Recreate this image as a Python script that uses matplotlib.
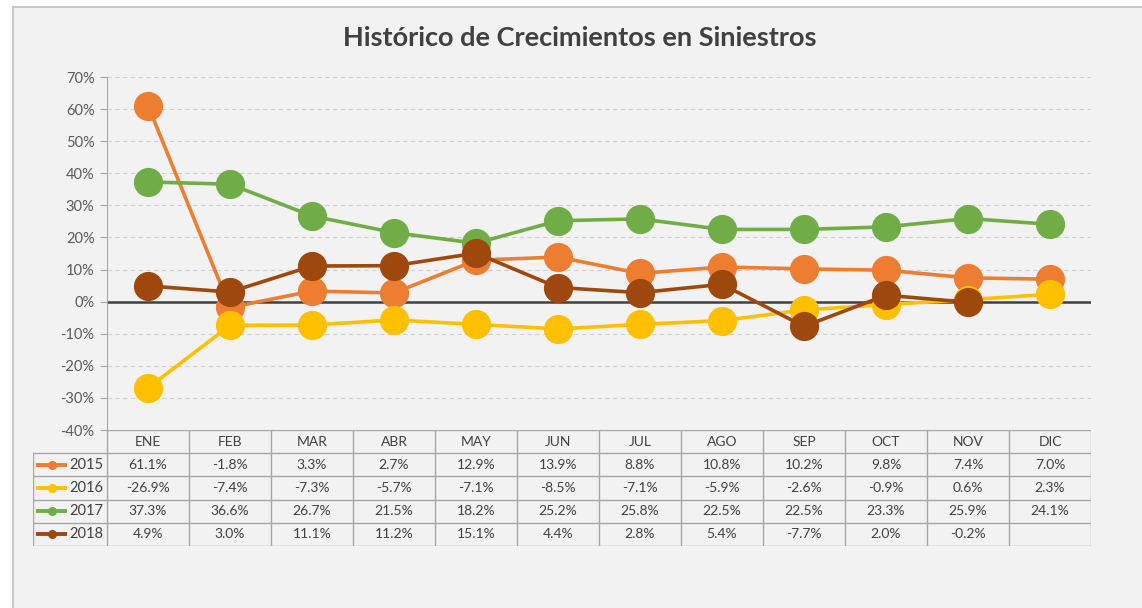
import numpy as np
import matplotlib.pyplot as plt
from matplotlib.patches import Rectangle

# Datos del histórico
meses = ["ENE", "FEB", "MAR", "ABR", "MAY", "JUN", "JUL", "AGO", "SEP", "OCT", "NOV", "DIC"]
anios = ["2015", "2016", "2017", "2018"]
s2015 = [61.1, -1.8, 3.3, 2.7, 12.9, 13.9, 8.8, 10.8, 10.2, 9.8, 7.4, 7.0]
s2016 = [-26.9, -7.4, -7.3, -5.7, -7.1, -8.5, -7.1, -5.9, -2.6, -0.9, 0.6, 2.3]
s2017 = [37.3, 36.6, 26.7, 21.5, 18.2, 25.2, 25.8, 22.5, 22.5, 23.3, 25.9, 24.1]
s2018 = [4.9, 3.0, 11.1, 11.2, 15.1, 4.4, 2.8, 5.4, -7.7, 2.0, -0.2, None]
colores = ["#ED7D31", "#FFC000", "#70AD47", "#9E480E"]
series = [s2015, s2016, s2017, s2018]

plt.rcParams["font.family"] = ["Lato", "DejaVu Sans"]
W, H = 1142, 608
fig = plt.figure(figsize=(W / 100, H / 100), dpi=100, facecolor="white")

# Fondo del área del gráfico
fig.patches.append(Rectangle((13 / W, -0.1), 1.2, (H - 7) / H + 0.1,
                             transform=fig.transFigure, facecolor="#F2F2F2",
                             edgecolor="#BFBFBF", linewidth=1.2, zorder=-5))

fig.text(580 / W, 1 - 38 / H, "Histórico de Crecimientos en Siniestros",
         ha="center", va="center", fontsize=19.5, fontweight="bold", color="#404040")

# Gráfico de líneas
x0, x1 = 107, 1091
ax = fig.add_axes([x0 / W, (H - 430) / H, (x1 - x0) / W, (430 - 77) / H])
ax.set_facecolor("none")
x = np.arange(len(meses))
for nombre, vals, c in zip(anios, series, colores):
    y = np.array([np.nan if v is None else v / 100 for v in vals])
    ax.plot(x, y, color=c, linewidth=2.6, marker="o", markersize=20, zorder=3)
ax.axhline(0, color="#404040", linewidth=1.8, zorder=2)
ax.set_xlim(-0.5, 11.5)
ax.set_ylim(-0.4, 0.7)
ax.set_yticks(np.arange(-0.4, 0.71, 0.1))
ax.set_yticklabels([f"{round(v * 100):d}%" for v in np.arange(-0.4, 0.71, 0.1)],
                   fontsize=10.5, color="#595959")
ax.yaxis.grid(True, linestyle=(0, (4, 3)), color="#D0D0D0", linewidth=0.8)
ax.set_xticks([])
for s in ["top", "right", "bottom"]:
    ax.spines[s].set_visible(False)
ax.spines["left"].set_color("#A6A6A6")
ax.tick_params(axis="y", length=5, color="#A6A6A6", pad=4)

# Tabla de datos
t0 = 33
xl = (t0 - x0) / 82 - 0.5
tab = fig.add_axes([t0 / W, (H - 546) / H, (x1 - t0) / W, 116 / H])
tab.set_xlim(xl, 11.5)
tab.set_ylim(0, 5)
tab.axis("off")
lc = "#A6A6A6"
tab.plot([-0.5, 11.5], [5, 5], color=lc, lw=1)
for k in range(5):
    tab.plot([xl, 11.5], [k, k], color=lc, lw=1)
tab.plot([xl, xl], [0, 4], color=lc, lw=1)
for i in range(13):
    tab.plot([i - 0.5, i - 0.5], [0, 5], color=lc, lw=1)
for i, m in enumerate(meses):
    tab.text(i, 4.5, m, ha="center", va="center", fontsize=10, color="#404040")
for r, (nombre, vals, c) in enumerate(zip(anios, series, colores)):
    yc = 3.5 - r
    tab.plot([xl + 0.04, xl + 0.42], [yc, yc], color=c, lw=2.8,
             solid_capstyle="butt")
    tab.plot([xl + 0.23], [yc], "o", color=c, markersize=5.5)
    tab.text(-0.54, yc, nombre, ha="right", va="center", fontsize=10.5, color="#404040")
    for i, v in enumerate(vals):
        if v is not None:
            tab.text(i, yc, f"{v:.1f}%", ha="center", va="center",
                     fontsize=10, color="#404040")

fig.savefig("out.png", dpi=100, facecolor="white")
